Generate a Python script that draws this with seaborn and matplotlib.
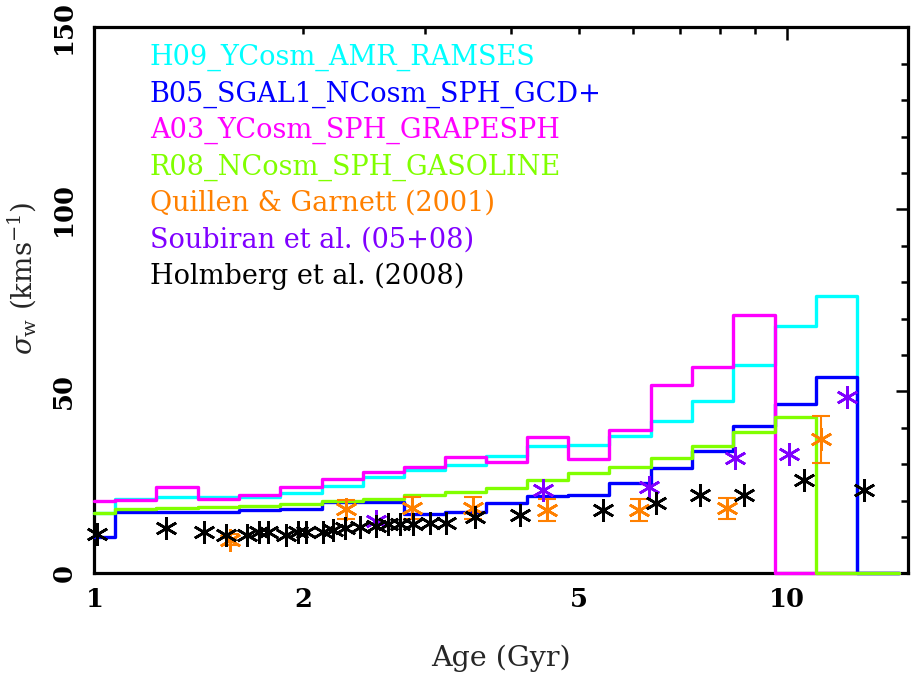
"""
Dispersión vertical de velocidades (sigma_w) vs edad estelar:
histogramas de simulaciones + datos observacionales.
Salida: out.png
"""
import matplotlib
matplotlib.use('Agg')
import matplotlib.pyplot as plt
from matplotlib.ticker import MultipleLocator
import pandas as pd
import seaborn as sns

# ── Datos ─────────────────────────────────────────────────────────────────────
# bordes de los bins de edad (Gyr); el último valor cierra el último bin
AGE_EDGES = [1.0, 1.071, 1.229, 1.411, 1.616, 1.855, 2.129, 2.439, 2.795, 3.208,
             3.676, 4.219, 4.834, 5.538, 6.357, 7.296, 8.359, 9.609, 11.01,
             12.62, 14.5]

SIG_H09 = [16.7, 20.5, 21.1, 21.0, 20.9, 22.0, 23.9, 26.5, 28.4, 29.8,
           32.3, 34.9, 35.4, 37.7, 42.0, 47.5, 57.3, 67.9, 76.2, 0.0]
SIG_B05 = [10.1, 16.8, 16.8, 16.8, 17.4, 17.7, 19.5, 19.7, 16.3, 17.0,
           19.3, 21.2, 21.5, 24.9, 29.1, 33.6, 40.5, 46.5, 53.9, 0.0]
SIG_A03 = [19.9, 20.3, 23.7, 20.5, 21.5, 23.7, 25.9, 27.9, 29.2, 31.9,
           30.7, 37.5, 31.5, 39.5, 51.9, 56.8, 71.0, 0.0, 0.0, 0.0]
SIG_R08 = [16.7, 17.6, 17.9, 18.3, 18.6, 19.0, 19.8, 20.5, 21.5, 22.4,
           23.4, 25.6, 27.5, 29.3, 31.8, 35.1, 38.9, 43.0, 0.0, 0.0]

SIM_NAMES = ['H09_YCosm_AMR_RAMSES', 'B05_SGAL1_NCosm_SPH_GCD+',
             'A03_YCosm_SPH_GRAPESPH', 'R08_NCosm_SPH_GASOLINE']

# Quillen & Garnett (2001)
QG_AGE = [1.57, 2.31, 2.87, 3.52, 4.51, 6.12, 8.20, 11.21]
QG_SIG = [9.3, 17.6, 17.9, 18.0, 17.4, 17.4, 17.9, 36.8]
QG_ERR = [1.5, 2.7, 3.0, 3.0, 3.1, 3.0, 2.8, 6.4]

# Soubiran et al. (05+08)
SOU_AGE = [2.55, 4.44, 6.31, 8.41, 10.07, 12.22]
SOU_SIG = [14.5, 22.9, 23.8, 31.6, 32.8, 48.5]

# Holmberg et al. (2008)
HOL_AGE = [1.01, 1.27, 1.44, 1.55, 1.66, 1.73, 1.78, 1.89, 1.97, 2.02,
           2.14, 2.21, 2.30, 2.42, 2.55, 2.65, 2.76, 2.88, 3.05, 3.22,
           3.54, 4.11, 5.43, 6.47, 7.48, 8.67, 10.58, 12.91]
HOL_SIG = [10.8, 12.4, 11.5, 10.6, 10.6, 11.5, 11.5, 10.6, 11.5, 11.5,
           11.5, 11.9, 12.4, 12.8, 13.0, 13.5, 13.6, 13.5, 13.8, 14.0,
           15.4, 16.1, 17.4, 19.3, 21.5, 21.5, 25.7, 22.9]

OBS_NAMES = ['Quillen & Garnett (2001)', 'Soubiran et al. (05+08)',
             'Holmberg et al. (2008)']

SIM_COLORS = ['#00FFFF', '#0000FF', '#FF00FF', '#80FF00']
OBS_COLORS = ['#FF8000', '#8000FF', '#000000']

# ── Estilo ────────────────────────────────────────────────────────────────────
sns.set_style('white')
plt.rcParams['font.family'] = ['DejaVu Serif']
plt.rcParams['mathtext.fontset'] = 'dejavuserif'

fig = plt.figure(figsize=(9.14, 6.77), dpi=100)
ax = fig.add_axes([0.1033, 0.1529, 0.8901, 0.8068])
ax.set_xscale('log')

# Histogramas de las simulaciones (escalones)
for name, vals, col in zip(SIM_NAMES, [SIG_H09, SIG_B05, SIG_A03, SIG_R08], SIM_COLORS):
    df = pd.DataFrame({'age': AGE_EDGES, 'sigma': list(vals) + [vals[-1]]})
    sns.lineplot(data=df, x='age', y='sigma', color=col, linewidth=2.4,
                 drawstyle='steps-post', estimator=None, sort=False,
                 clip_on=False, zorder=3, ax=ax)

# Datos observacionales
ax.errorbar(QG_AGE, QG_SIG, yerr=QG_ERR, fmt='none', ecolor=OBS_COLORS[0],
            elinewidth=1.5, capsize=6.5, capthick=1.5, zorder=4)
for ages, sig, col in zip([QG_AGE, SOU_AGE, HOL_AGE], [QG_SIG, SOU_SIG, HOL_SIG], OBS_COLORS):
    sns.lineplot(x=ages, y=sig, color=col, marker=(6, 2, 0), linestyle='',
                 markersize=16, markeredgewidth=1.9, markeredgecolor=col,
                 estimator=None, sort=False, clip_on=False, zorder=5, ax=ax)

# Leyenda como texto coloreado
ys = [0.931, 0.8641, 0.7973, 0.7305, 0.6637, 0.5969, 0.5301]
for y, name, col in zip(ys, SIM_NAMES + OBS_NAMES, SIM_COLORS + OBS_COLORS):
    ax.text(0.0683, y, name, color=col, fontsize=19.5, va='baseline',
            transform=ax.transAxes)

# Ejes
ax.set_xlim(1, 14.95)
ax.set_ylim(0, 150)
ax.set_xticks([1, 10], labels=['1', '10'])
ax.set_xticks([2, 3, 4, 5, 6, 7, 8, 9],
              labels=['2', '', '', '5', '', '', '', ''], minor=True)
ax.set_yticks([0, 50, 100, 150])
ax.set_yticklabels(['0', '50', '100', '150'], rotation=90, va='center')
ax.yaxis.set_minor_locator(MultipleLocator(10))

ax.tick_params(which='both', direction='in', top=True, right=True,
               width=1.8, colors='black', labelsize=18.5)
ax.tick_params(axis='x', which='both', pad=10)
ax.tick_params(axis='y', which='both', pad=13)
ax.tick_params(which='major', length=9)
ax.tick_params(which='minor', length=5)
for lab in ax.get_xticklabels(which='both') + ax.get_yticklabels():
    lab.set_fontweight('bold')

for sp in ax.spines.values():
    sp.set_linewidth(2.3)
    sp.set_color('black')

ax.set_xlabel('Age (Gyr)', fontsize=20.5)
ax.set_ylabel(r'$\sigma_{\rm w}$ (kms$^{-1}$)', fontsize=20)
ax.xaxis.set_label_coords(0.5, -0.13)
ax.yaxis.set_label_coords(-0.068, 0.54)

fig.savefig('out.png', dpi=100)
